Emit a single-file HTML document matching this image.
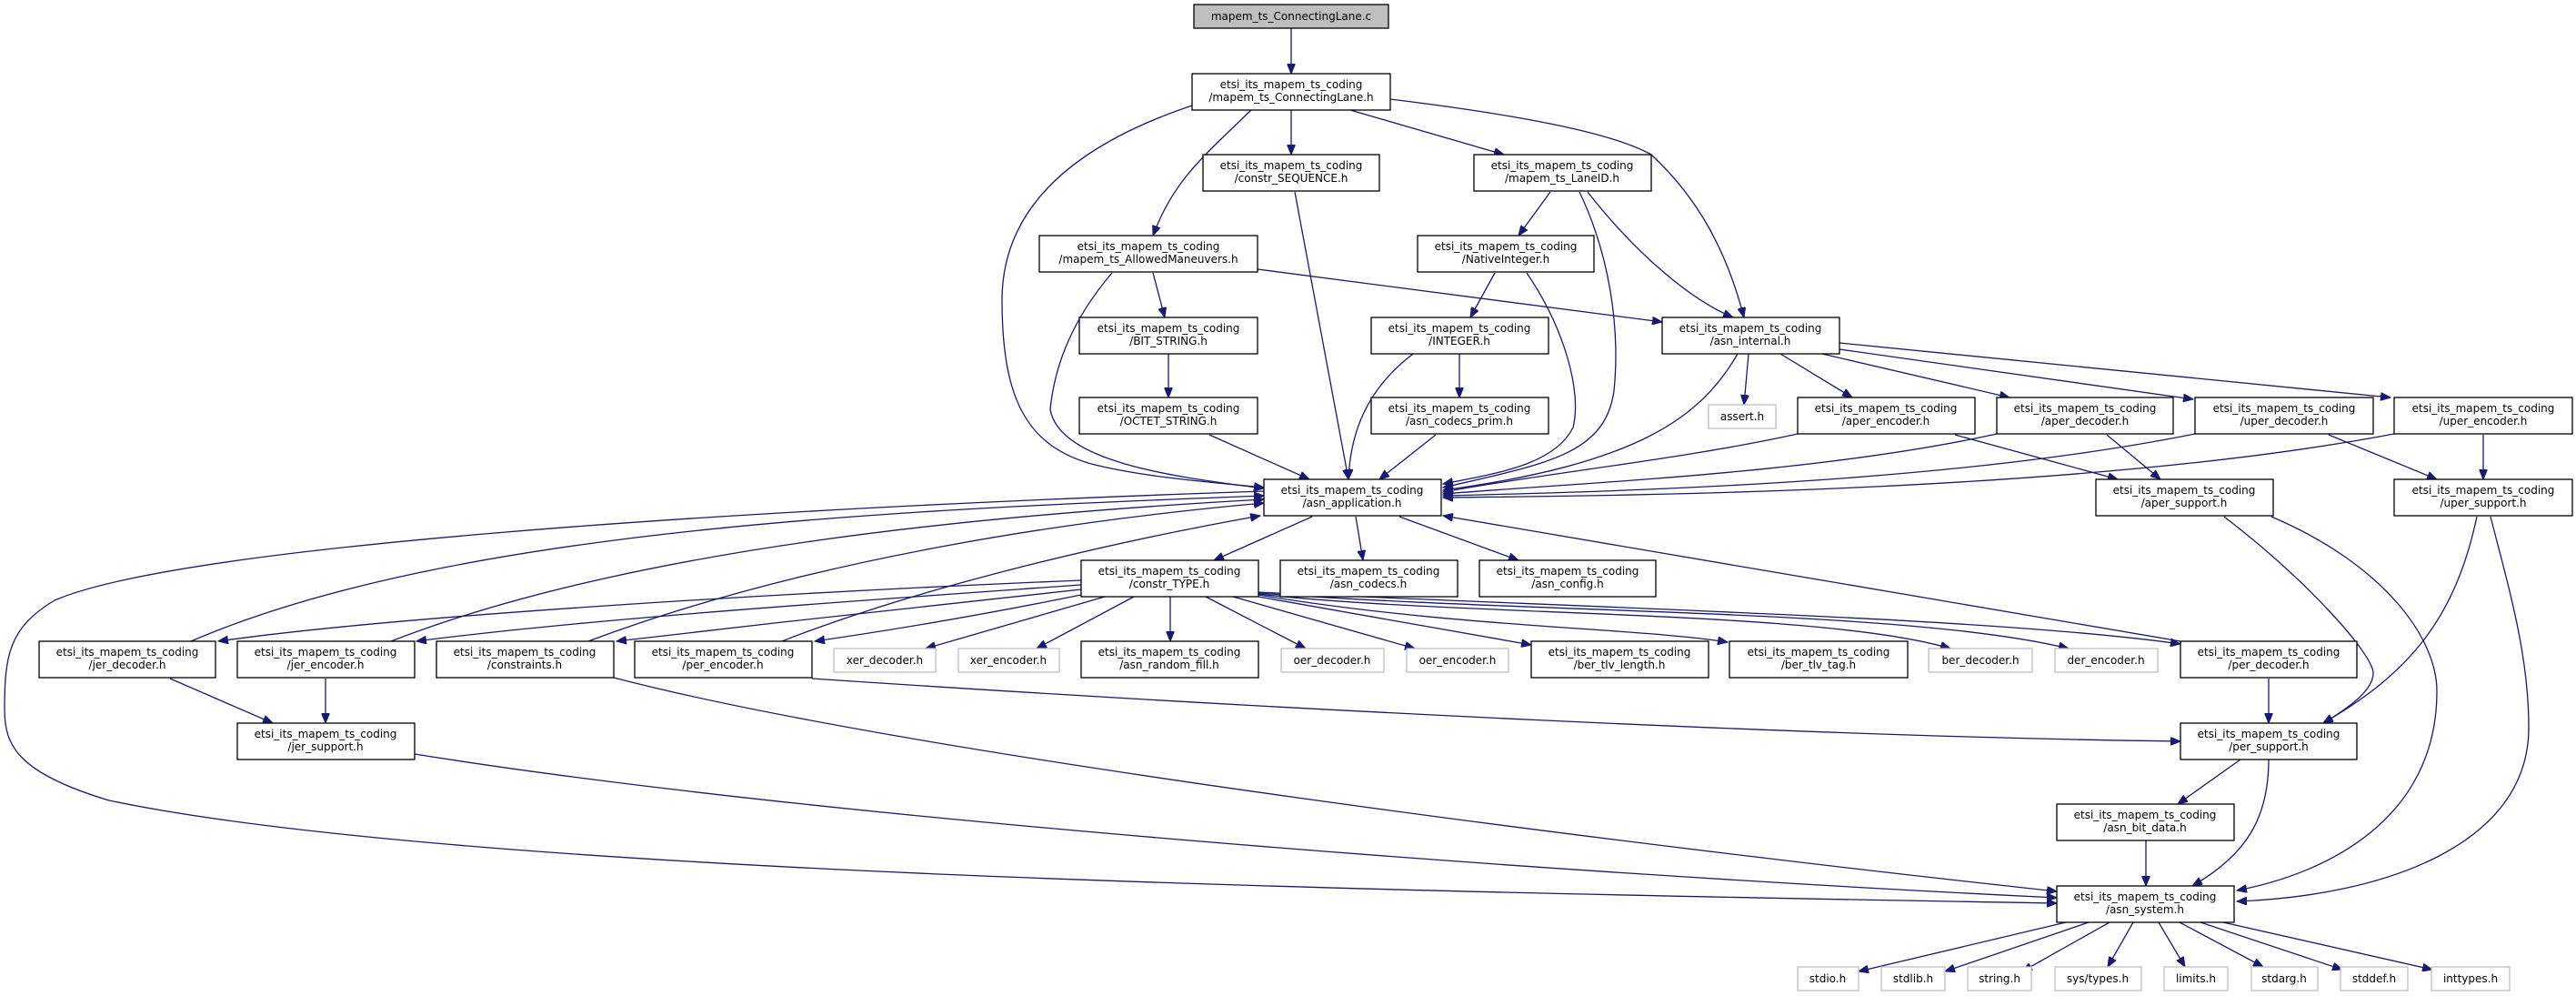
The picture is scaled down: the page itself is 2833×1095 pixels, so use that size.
<!DOCTYPE html>
<html><head><meta charset="utf-8"><style>
html,body{margin:0;padding:0;background:#fff;}
svg{display:block;}
text{font-family:"DejaVu Sans","Liberation Sans",sans-serif;font-size:12px;fill:#000;text-anchor:middle;}
.n{fill:#fff;stroke:#000;stroke-width:1.3;}
.g{fill:#fff;stroke:#bfbfbf;stroke-width:1.3;}
.e{fill:none;stroke:#191970;stroke-width:1.3;marker-end:url(#a);}
</style></head><body>
<svg width="2833" height="1095" viewBox="0 0 2833 1095" xmlns="http://www.w3.org/2000/svg">
<defs><marker id="a" markerUnits="userSpaceOnUse" markerWidth="12" markerHeight="9" refX="11" refY="4.5" orient="auto"><path d="M0,0 L11,4.5 L0,9 z" fill="#191970" stroke="#191970"/></marker></defs>

<!-- edges -->
<path class="e" d="M1420,31 L1420,81"/>
<path class="e" d="M1311,116 C1150,170 1102,250 1102,330 C1102,440 1130,490 1200,510 C1260,525 1330,530 1390,536"/>
<path class="e" d="M1376,121 C1320,175 1290,200 1268,259"/>
<path class="e" d="M1420,121 L1420,170"/>
<path class="e" d="M1485,121 L1654,170"/>
<path class="e" d="M1529,109 C1700,130 1780,150 1816,170 C1870,220 1900,280 1918,349"/>
<path class="e" d="M1424,211 L1483,527"/>
<path class="e" d="M1705,211 L1670,259"/>
<path class="e" d="M1737,211 C1770,280 1782,360 1775,430 C1765,500 1700,510 1587,536"/>
<path class="e" d="M1746,211 C1800,280 1860,330 1906,349"/>
<path class="e" d="M1223,300 C1180,350 1160,400 1155,450 C1165,510 1300,525 1390,537"/>
<path class="e" d="M1268,300 L1281,349"/>
<path class="e" d="M1383,296 L1828,354"/>
<path class="e" d="M1644,300 L1617,349"/>
<path class="e" d="M1679,300 C1720,360 1740,430 1730,470 C1710,510 1650,520 1587,532"/>
<path class="e" d="M1285,389 L1285,437"/>
<path class="e" d="M1554,389 C1500,430 1485,480 1483,527"/>
<path class="e" d="M1605,389 L1605,437"/>
<path class="e" d="M1330,478 L1440,527"/>
<path class="e" d="M1579,478 L1517,527"/>
<path class="e" d="M1911,389 C1870,460 1800,510 1587,539"/>
<path class="e" d="M1923,389 L1918,445"/>
<path class="e" d="M1958,389 L2037,437"/>
<path class="e" d="M2004,389 L2210,437"/>
<path class="e" d="M2023,384 L2412,439"/>
<path class="e" d="M2023,377 L2629,437"/>
<path class="e" d="M1977,477 C1850,505 1700,520 1587,541"/>
<path class="e" d="M2196,477 C2000,520 1750,530 1587,543"/>
<path class="e" d="M2414,477 C2150,530 1800,540 1587,545"/>
<path class="e" d="M2633,477 C2300,540 1800,545 1587,547"/>
<path class="e" d="M2150,478 L2329,527"/>
<path class="e" d="M2317,478 L2376,527"/>
<path class="e" d="M2561,478 L2680,527"/>
<path class="e" d="M2731,478 L2731,527"/>
<path class="e" d="M2446,568 C2540,640 2610,720 2610,740 C2610,760 2580,780 2555,795"/>
<path class="e" d="M2498,568 C2620,620 2680,700 2680,760 C2680,900 2560,960 2460,979"/>
<path class="e" d="M2724,568 C2700,680 2650,740 2555,795"/>
<path class="e" d="M2739,568 C2760,650 2781,720 2781,800 C2781,930 2620,985 2460,991"/>
<path class="e" d="M1443,568 L1335,616"/>
<path class="e" d="M1491,568 L1499,616"/>
<path class="e" d="M1539,568 L1670,616"/>
<path class="e" d="M2398,705 L1587,567"/>
<!-- constr_TYPE to left nodes -->
<path class="e" d="M1189,638 C900,650 450,675 240,705"/>
<path class="e" d="M1189,643 C950,660 650,680 458,705"/>
<path class="e" d="M1189,648 C1000,668 850,685 678,705"/>
<path class="e" d="M1189,654 C1100,672 1000,690 896,705"/>
<path class="e" d="M1215,656 L1018,713"/>
<path class="e" d="M1247,656 L1140,713"/>
<path class="e" d="M1287,656 L1287,705"/>
<path class="e" d="M1326,656 L1436,713"/>
<path class="e" d="M1356,656 L1556,713"/>
<path class="e" d="M1384,656 L1684,709"/>
<path class="e" d="M1384,654 C1600,690 1800,690 1900,706"/>
<path class="e" d="M1384,653 C1600,678 2000,670 2145,713"/>
<path class="e" d="M1384,652 C1700,675 2100,670 2275,713"/>
<path class="e" d="M1384,651 C1800,670 2200,680 2398,708"/>
<!-- to app from left -->
<path class="e" d="M210,705 C500,580 1000,560 1390,545"/>
<path class="e" d="M430,705 C700,600 1100,565 1390,549"/>
<path class="e" d="M647,705 C900,610 1200,570 1390,553"/>
<path class="e" d="M860,705 C1000,650 1200,600 1386,567"/>
<path class="e" d="M1390,540 C800,560 200,600 60,660 C10,690 5,720 5,780 C5,820 20,850 120,880 C500,960 1500,980 2262,993"/>
<path class="e" d="M187,746 L300,795"/>
<path class="e" d="M358,746 L358,795"/>
<path class="e" d="M456,829 C900,900 1700,960 2262,987"/>
<path class="e" d="M675,745 C1000,830 1800,930 2262,980"/>
<path class="e" d="M893,746 C1400,780 2000,810 2398,815"/>
<path class="e" d="M2495,746 L2495,795"/>
<path class="e" d="M2464,835 L2395,884"/>
<path class="e" d="M2495,835 C2495,900 2470,940 2411,974"/>
<path class="e" d="M2360,924 L2360,974"/>
<path class="e" d="M2272,1014 L2044,1068"/>
<path class="e" d="M2297,1014 L2139,1068"/>
<path class="e" d="M2320,1014 L2224,1068"/>
<path class="e" d="M2346,1014 L2318,1063"/>
<path class="e" d="M2374,1014 L2403,1063"/>
<path class="e" d="M2397,1014 L2489,1063"/>
<path class="e" d="M2420,1014 L2576,1066"/>
<path class="e" d="M2445,1014 L2675,1066"/>

<!-- nodes -->
<rect x="1313" y="5" width="214" height="26" fill="#bfbfbf" stroke="#000" stroke-width="1.3"/><text x="1420" y="22">mapem_ts_ConnectingLane.c</text>

<g>
<rect class="n" x="1311" y="81" width="218" height="40"/><text x="1420" y="97">etsi_its_mapem_ts_coding</text><text x="1420" y="111">/mapem_ts_ConnectingLane.h</text>
<rect class="n" x="1323" y="170" width="194" height="40"/><text x="1420" y="186">etsi_its_mapem_ts_coding</text><text x="1420" y="200">/constr_SEQUENCE.h</text>
<rect class="n" x="1621" y="170" width="195" height="40"/><text x="1718" y="186">etsi_its_mapem_ts_coding</text><text x="1718" y="200">/mapem_ts_LaneID.h</text>
<rect class="n" x="1143" y="259" width="240" height="40"/><text x="1263" y="275">etsi_its_mapem_ts_coding</text><text x="1263" y="289">/mapem_ts_AllowedManeuvers.h</text>
<rect class="n" x="1559" y="259" width="194" height="40"/><text x="1656" y="275">etsi_its_mapem_ts_coding</text><text x="1656" y="289">/NativeInteger.h</text>
<rect class="n" x="1187" y="349" width="196" height="40"/><text x="1285" y="365">etsi_its_mapem_ts_coding</text><text x="1285" y="379">/BIT_STRING.h</text>
<rect class="n" x="1508" y="349" width="195" height="40"/><text x="1605" y="365">etsi_its_mapem_ts_coding</text><text x="1605" y="379">/INTEGER.h</text>
<rect class="n" x="1828" y="349" width="195" height="40"/><text x="1925" y="365">etsi_its_mapem_ts_coding</text><text x="1925" y="379">/asn_internal.h</text>
<rect class="n" x="1187" y="437" width="196" height="40"/><text x="1285" y="453">etsi_its_mapem_ts_coding</text><text x="1285" y="467">/OCTET_STRING.h</text>
<rect class="n" x="1508" y="437" width="195" height="40"/><text x="1605" y="453">etsi_its_mapem_ts_coding</text><text x="1605" y="467">/asn_codecs_prim.h</text>
<rect class="g" x="1879" y="445" width="74" height="26"/><text x="1916" y="462">assert.h</text>
<rect class="n" x="1977" y="437" width="195" height="40"/><text x="2074" y="453">etsi_its_mapem_ts_coding</text><text x="2074" y="467">/aper_encoder.h</text>
<rect class="n" x="2196" y="437" width="194" height="40"/><text x="2293" y="453">etsi_its_mapem_ts_coding</text><text x="2293" y="467">/aper_decoder.h</text>
<rect class="n" x="2414" y="437" width="196" height="40"/><text x="2512" y="453">etsi_its_mapem_ts_coding</text><text x="2512" y="467">/uper_decoder.h</text>
<rect class="n" x="2633" y="437" width="196" height="40"/><text x="2731" y="453">etsi_its_mapem_ts_coding</text><text x="2731" y="467">/uper_encoder.h</text>
<rect class="n" x="1390" y="527" width="195" height="40"/><text x="1487" y="543">etsi_its_mapem_ts_coding</text><text x="1487" y="557">/asn_application.h</text>
<rect class="n" x="2305" y="527" width="195" height="40"/><text x="2402" y="543">etsi_its_mapem_ts_coding</text><text x="2402" y="557">/aper_support.h</text>
<rect class="n" x="2633" y="527" width="196" height="40"/><text x="2731" y="543">etsi_its_mapem_ts_coding</text><text x="2731" y="557">/uper_support.h</text>
<rect class="n" x="1189" y="616" width="195" height="40"/><text x="1286" y="632">etsi_its_mapem_ts_coding</text><text x="1286" y="646">/constr_TYPE.h</text>
<rect class="n" x="1408" y="616" width="195" height="40"/><text x="1505" y="632">etsi_its_mapem_ts_coding</text><text x="1505" y="646">/asn_codecs.h</text>
<rect class="n" x="1627" y="616" width="194" height="40"/><text x="1724" y="632">etsi_its_mapem_ts_coding</text><text x="1724" y="646">/asn_config.h</text>
<rect class="n" x="43" y="705" width="194" height="40"/><text x="140" y="721">etsi_its_mapem_ts_coding</text><text x="140" y="735">/jer_decoder.h</text>
<rect class="n" x="261" y="705" width="195" height="40"/><text x="358" y="721">etsi_its_mapem_ts_coding</text><text x="358" y="735">/jer_encoder.h</text>
<rect class="n" x="480" y="705" width="195" height="40"/><text x="577" y="721">etsi_its_mapem_ts_coding</text><text x="577" y="735">/constraints.h</text>
<rect class="n" x="698" y="705" width="195" height="40"/><text x="795" y="721">etsi_its_mapem_ts_coding</text><text x="795" y="735">/per_encoder.h</text>
<rect class="g" x="917" y="713" width="112" height="26"/><text x="973" y="730">xer_decoder.h</text>
<rect class="g" x="1054" y="713" width="111" height="26"/><text x="1109" y="730">xer_encoder.h</text>
<rect class="n" x="1189" y="705" width="195" height="40"/><text x="1286" y="721">etsi_its_mapem_ts_coding</text><text x="1286" y="735">/asn_random_fill.h</text>
<rect class="g" x="1409" y="713" width="113" height="26"/><text x="1465" y="730">oer_decoder.h</text>
<rect class="g" x="1547" y="713" width="112" height="26"/><text x="1603" y="730">oer_encoder.h</text>
<rect class="n" x="1684" y="705" width="195" height="40"/><text x="1781" y="721">etsi_its_mapem_ts_coding</text><text x="1781" y="735">/ber_tlv_length.h</text>
<rect class="n" x="1902" y="705" width="196" height="40"/><text x="2000" y="721">etsi_its_mapem_ts_coding</text><text x="2000" y="735">/ber_tlv_tag.h</text>
<rect class="g" x="2121" y="713" width="114" height="26"/><text x="2178" y="730">ber_decoder.h</text>
<rect class="g" x="2260" y="713" width="113" height="26"/><text x="2316" y="730">der_encoder.h</text>
<rect class="n" x="2398" y="705" width="194" height="40"/><text x="2495" y="721">etsi_its_mapem_ts_coding</text><text x="2495" y="735">/per_decoder.h</text>
<rect class="n" x="261" y="795" width="195" height="40"/><text x="358" y="811">etsi_its_mapem_ts_coding</text><text x="358" y="825">/jer_support.h</text>
<rect class="n" x="2398" y="795" width="194" height="40"/><text x="2495" y="811">etsi_its_mapem_ts_coding</text><text x="2495" y="825">/per_support.h</text>
<rect class="n" x="2262" y="884" width="195" height="40"/><text x="2359" y="900">etsi_its_mapem_ts_coding</text><text x="2359" y="914">/asn_bit_data.h</text>
<rect class="n" x="2262" y="974" width="195" height="40"/><text x="2359" y="990">etsi_its_mapem_ts_coding</text><text x="2359" y="1004">/asn_system.h</text>
<rect class="g" x="1977" y="1063" width="67" height="26"/><text x="2010" y="1080">stdio.h</text>
<rect class="g" x="2069" y="1063" width="70" height="26"/><text x="2104" y="1080">stdlib.h</text>
<rect class="g" x="2164" y="1063" width="70" height="26"/><text x="2199" y="1080">string.h</text>
<rect class="g" x="2260" y="1063" width="95" height="26"/><text x="2307" y="1080">sys/types.h</text>
<rect class="g" x="2380" y="1063" width="70" height="26"/><text x="2415" y="1080">limits.h</text>
<rect class="g" x="2476" y="1063" width="73" height="26"/><text x="2512" y="1080">stdarg.h</text>
<rect class="g" x="2574" y="1063" width="74" height="26"/><text x="2611" y="1080">stddef.h</text>
<rect class="g" x="2674" y="1063" width="86" height="26"/><text x="2717" y="1080">inttypes.h</text>
</g>
</svg>
</body></html>
